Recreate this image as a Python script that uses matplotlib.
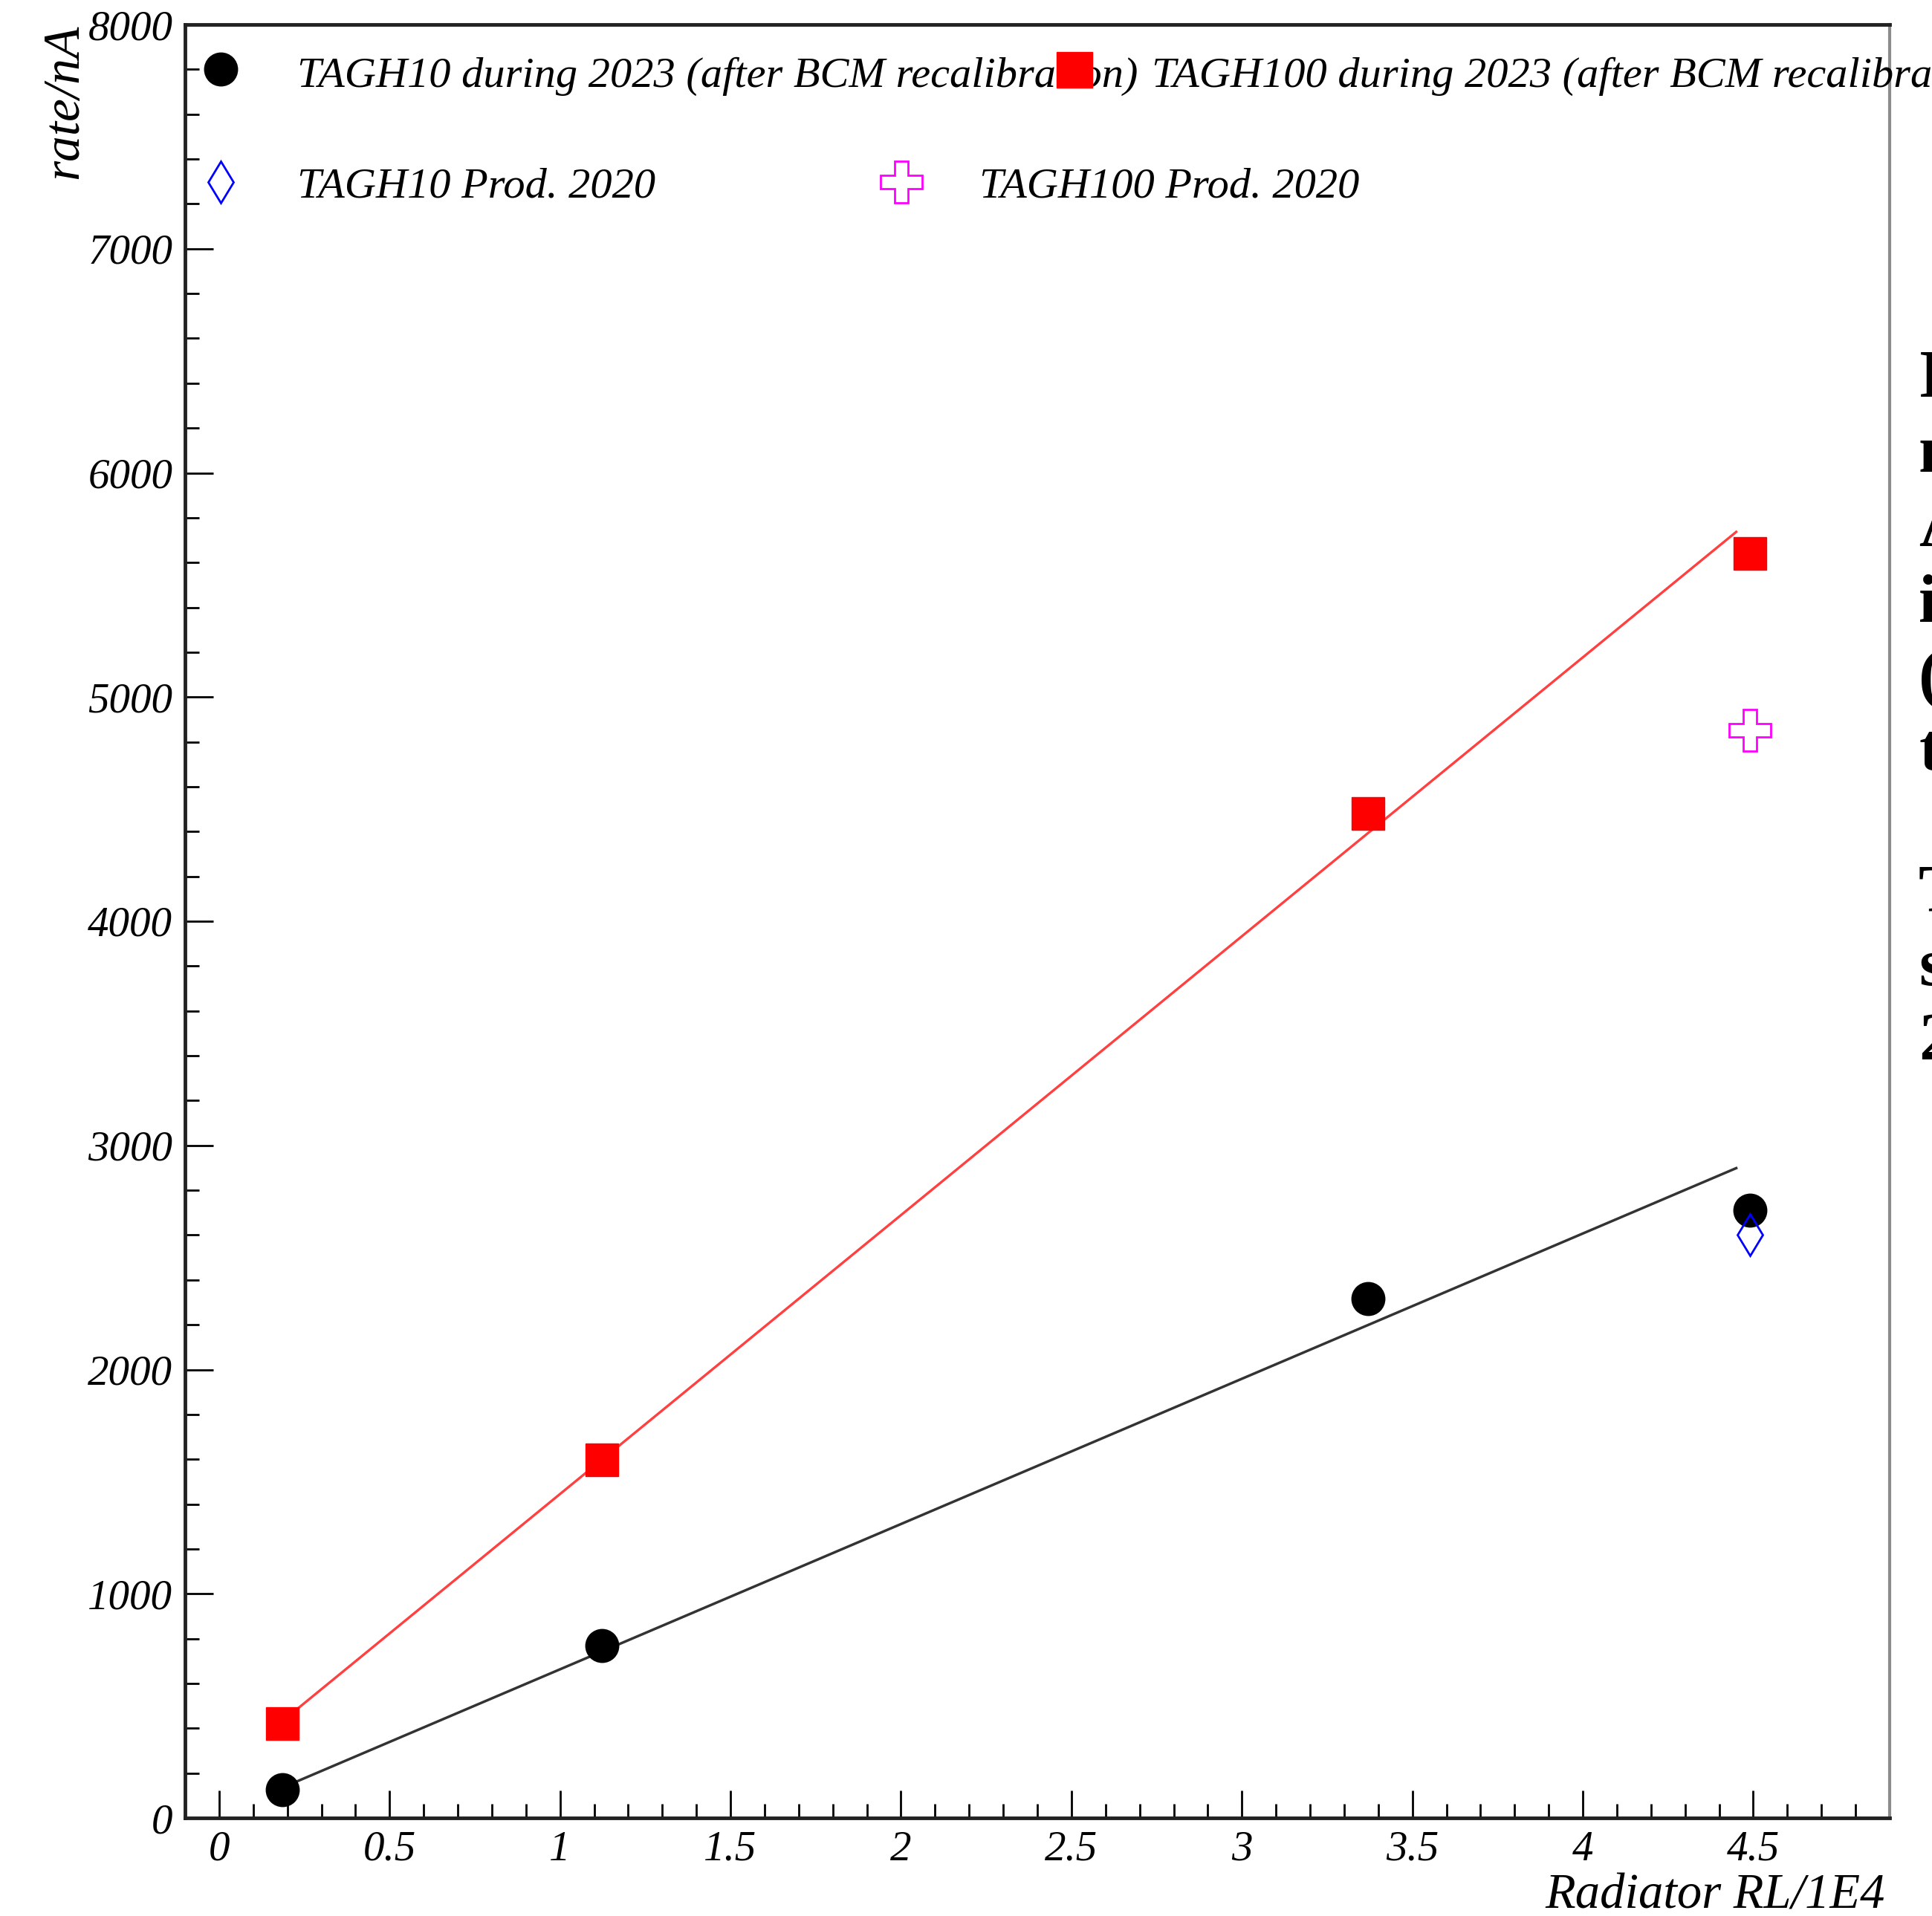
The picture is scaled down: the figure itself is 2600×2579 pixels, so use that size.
import numpy as np
import matplotlib
matplotlib.use("Agg")
import matplotlib.pyplot as plt
from matplotlib.ticker import MultipleLocator
from matplotlib.lines import Line2D

# radiator thickness (RL/1E4) and measured rates per nA
x_2023 = [0.186, 1.122, 3.37, 4.49]
tagh10_2023 = [126, 768, 2316, 2712]
tagh100_2023 = [421, 1597, 4482, 5640]

x_2020 = [4.49]
tagh10_2020 = [2603]
tagh100_2020 = [4851]

# straight line fits: (intercept, slope), drawn over fit_range
fit_tagh10 = (15, 648)
fit_tagh100 = (201, 1244)
fit_range = [0.186, 4.45]

labels = ["TAGH10 during 2023 (after BCM recalibration)",
          "TAGH100 during 2023 (after BCM recalibration)",
          "TAGH10 Prod. 2020",
          "TAGH100 Prod. 2020"]

# fragment of slide text cut off at the right edge
side_letters = ["I", "n", "A", "i", "(", "t", "T", "s", "2"]

plt.rcParams["font.family"] = ["Liberation Serif", "DejaVu Serif"]
plt.rcParams["font.style"] = "italic"

W, H = 2600, 2579
fig = plt.figure(figsize=(26, 25.79), dpi=100)

def fx(px):
  return px / W

def fy(py):
  return 1 - py / H

ax = fig.add_axes([fx(249), fy(2447), (2543 - 249) / W, (2447 - 33) / H])

# fits
xf = np.array(fit_range)
ax.plot(xf, fit_tagh10[0] + fit_tagh10[1] * xf, color="#333333", lw=2.5, zorder=2)
ax.plot(xf, fit_tagh100[0] + fit_tagh100[1] * xf, color="#ff4040", lw=2.4, zorder=2)

# data
ax.plot(x_2023, tagh10_2023, "o", color="black", ms=32, zorder=3)
ax.plot(x_2023, tagh100_2023, "s", color="red", ms=32, zorder=3)
ax.plot(x_2020, tagh10_2020, "d", mfc="none", mec="blue", mew=2, ms=29, zorder=4)
ax.plot(x_2020, tagh100_2020, "P", mfc="none", mec="magenta", mew=2, ms=41, zorder=4)

ax.set_xlim(-0.1, 4.9)
ax.set_ylim(0, 8000)
ax.xaxis.set_major_locator(MultipleLocator(0.5))
ax.xaxis.set_minor_locator(MultipleLocator(0.1))
ax.yaxis.set_major_locator(MultipleLocator(1000))
ax.yaxis.set_minor_locator(MultipleLocator(200))
ax.xaxis.set_major_formatter(lambda v, p: "%g" % v)
ax.yaxis.set_major_formatter(lambda v, p: "%d" % v)

ax.tick_params(which="both", direction="in", top=False, right=False,
               width=2, labelsize=41, pad=12, color="black")
ax.tick_params(which="major", length=27)
ax.tick_params(which="minor", length=14)

for s in ["left", "bottom", "top"]:
  ax.spines[s].set_linewidth(3.5)
  ax.spines[s].set_color("#222222")
ax.spines["right"].set_linewidth(3)
ax.spines["right"].set_color("#8c8c8c")

# axis titles, ROOT style
fig.text(fx(104), fy(33), "rate/nA", rotation=90, rotation_mode="anchor",
         ha="right", va="baseline", fontsize=50)
fig.text(fx(2537), fy(2568), "Radiator RL/1E4", ha="right", va="baseline",
         fontsize=48)

# legend (entries placed like the original TLegend)
leg_text_pos = [(400, 117), (1550, 117), (400, 265), (1318, 265)]
for (px, py), lab in zip(leg_text_pos, labels):
  fig.text(fx(px), fy(py), lab, ha="left", va="baseline", fontsize=42, zorder=5)

leg_marks = [
  ((297, 93), dict(marker="o", color="black", ms=32)),
  ((1446, 94), dict(marker="s", color="red", ms=34)),
  ((297, 245), dict(marker="d", mfc="none", mec="blue", mew=2, ms=29)),
  ((1213, 245), dict(marker="P", mfc="none", mec="magenta", mew=2, ms=41)),
]
for (px, py), kw in leg_marks:
  fig.add_artist(Line2D([fx(px)], [fy(py)], transform=fig.transFigure,
                        ls="none", zorder=10, **kw))

# cut-off slide text on the right
side_baselines = [534, 635, 735, 836, 937, 1036, 1227, 1326, 1426]
for ch, py in zip(side_letters, side_baselines):
  fig.text(fx(2582), fy(py), ch, ha="left", va="baseline", fontsize=66,
           fontweight="bold", fontstyle="normal", family="Liberation Serif")

fig.savefig("out.png", dpi=100, facecolor="white")
